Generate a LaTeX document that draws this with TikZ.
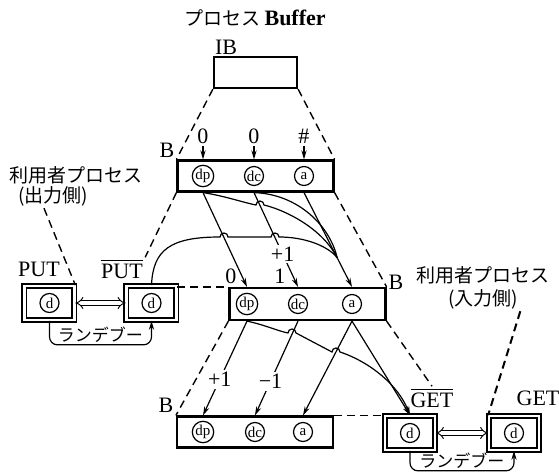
\documentclass[tikz,border=0pt]{standalone}
\usepackage{fontspec}
\setmainfont{Liberation Serif}
\newfontfamily\jfont{Noto Sans CJK JP}
\usetikzlibrary{arrows.meta, positioning, calc}
\tikzset{
  buf/.style={rectangle, draw, line width=1.1pt, minimum width=78pt, minimum height=15.5pt, inner sep=0pt},
  cell/.style={circle, draw, line width=0.6pt, minimum size=9.5pt, inner sep=0.2pt, font=\fontsize{7.5}{7.5}\selectfont},
  ubox/.style={rectangle, draw, line width=0.85pt, double, double distance=1.3pt, minimum width=25pt, minimum height=17pt},
  conn/.style={line width=0.6pt},
  arrow/.style={conn, -{Stealth[length=4.5pt,width=2.6pt]}},
  dasharrow/.style={dash pattern=on 4pt off 2.5pt, line width=0.7pt},
  rdv/.style={arrow, rounded corners=4pt},
  dbl/.style={{Implies}-{Implies}, double equal sign distance, line width=0.5pt},
  lbl/.style={font=\fontsize{11}{12}\selectfont, inner sep=1pt},
  jlabel/.style={font=\jfont\fontsize{9.5}{11}\selectfont, inner sep=1pt},
  rlabel/.style={font=\jfont\fontsize{8.5}{10}\selectfont, inner sep=1pt},
}
\begin{document}
\begin{tikzpicture}[x=0.5pt, y=-0.5pt]
  \useasboundingbox (0,0) rectangle (559,476);

  %% ---- PROCESS BUFFER ----
  \node[jlabel] (title) at (255,18) {プロセス {\rmfamily\fontsize{11}{12}\selectfont\bfseries Buffer}};
  \node[lbl] (iblab) at (226,47) {IB};
  \node[buf, minimum width=41.5pt] (IB) at (255.5,72.5) {};

  %% ---- TOP BUFFER ----
  \node[buf] (topB) at (255.5,176) {};
  \node[lbl] (tblab) at (167,150) {B};
  \node[cell] (tdp) at (203,176) {dp};
  \node[cell] (tdc) at (254,176) {dc};
  \node[cell] (ta) at (304,176) {a};
  \node[lbl] (v1) at (203,136) {0};
  \node[lbl] (v2) at (254,136) {0};
  \node[lbl] (v3) at (304,136) {\#};
  \draw[arrow] (v1) -- (v1 |- topB.north);
  \draw[arrow] (v2) -- (v2 |- topB.north);
  \draw[arrow] (v3) -- (v3 |- topB.north);
  \draw[dasharrow] (IB.south west) -- (topB.north west);
  \draw[dasharrow] (IB.south east) -- (topB.north east);

  %% ---- MIDDLE BUFFER ----
  \node[buf, minimum height=16pt] (midB) at (307.5,304) {};
  \node[lbl] (mblab) at (396,282) {B};
  \node[cell] (mdp) at (247,304) {dp};
  \node[cell] (mdc) at (298,304) {dc};
  \node[cell] (ma) at (352,304) {a};
  \node[lbl] (w1) at (231,276) {0};
  \node[lbl] (w2) at (280,276) {1};

  \draw[arrow] (tdp |- topB.south) -- (mdp |- midB.north);
  \draw[arrow] (tdc |- topB.south) -- node[lbl, fill=white, pos=0.65]{+1} (mdc |- midB.north);
  \draw[arrow] (ta |- topB.south) -- (ma |- midB.north);
  \coordinate (m) at ($(ta |- topB.south)!0.69!(ma |- midB.north)$);
  \draw[conn] (tdp |- topB.south) .. controls (225,196) and (245,203) .. (256,205)
    arc[start angle=180, end angle=360, radius=4] .. controls (285,210) and (322,228) .. (m);
  \draw[conn] (tdc |- topB.south) .. controls (298,194) and (330,226) .. (m);

  %% ---- USER PROCESS (OUTPUT SIDE) ----
  \node[jlabel] (out1) at (76,175) {利用者プロセス};
  \node[jlabel] (out2) at (53,196) {(出力側)};
  \node[ubox] (putb) at (49.5,303) {};
  \node[cell] (pd) at (putb) {d};
  \node[ubox] (putbb) at (151.5,303) {};
  \node[cell] (pbd) at (putbb) {d};
  \node[lbl] (putl) at (39,269) {PUT};
  \node[lbl] (putbl) at (122,269) {$\overline{\mbox{PUT}}$};
  \draw[dbl] (putb.east) -- (putbb.west);
  \draw[rdv] (putb.south) -- ++(0,24) -| node[rlabel, pos=0.25, above]{ランデブー} (putbb.south);
  \draw[dasharrow] ($(out2.south)+(-9,0)$) -- (putb.north east);
  \draw[dasharrow] (topB.south west) -- (putbl.north east);
  \draw[dasharrow] (midB.north west -| putbb.east) -- (midB.north west);
  \draw[dasharrow] (topB.south east) -- (midB.north east);
  \draw[conn] (putbb.north) .. controls (153,250) and (170,237) .. (220,237)
    arc[start angle=180, end angle=360, radius=4] -- (271,237)
    arc[start angle=180, end angle=360, radius=4] .. controls (305,237) and (328,246) .. (m);

  %% ---- BOTTOM BUFFER ----
  \node[buf] (botB) at (255,432) {};
  \node[lbl] (bblab) at (166,405) {B};
  \node[cell] (bdp) at (203,432) {dp};
  \node[cell] (bdc) at (255,432) {dc};
  \node[cell] (ba) at (303,432) {a};

  %% ---- USER PROCESS (INPUT SIDE) ----
  \node[jlabel] (in1) at (483,275) {利用者プロセス};
  \node[jlabel] (in2) at (483,299) {(入力側)};
  \node[ubox] (getb) at (410,433) {};
  \node[cell] (gbd) at (getb) {d};
  \node[ubox] (getu) at (514,433) {};
  \node[cell] (gd) at (getu) {d};
  \node[lbl] (getbl) at (432,398) {$\overline{\mbox{GET}}$};
  \node[lbl] (getl) at (538,398) {GET};
  \draw[dbl] (getb.east) -- (getu.west);
  \draw[rdv] (getb.south) -- ++(0,20) -| node[rlabel, pos=0.25, above]{ランデブー} (getu.south);
  \draw[dasharrow, line width=1pt] (in2.south east) -- (getu.north west);

  \draw[arrow] (mdp |- midB.south) -- node[lbl, fill=white, pos=0.62]{+1} (bdp |- botB.north);
  \draw[arrow] (mdc |- midB.south) -- node[lbl, fill=white, pos=0.64]{−1} (bdc |- botB.north);
  \draw[arrow] (ma |- midB.south) -- (ba |- botB.north);
  \draw[arrow] (ma |- midB.south) -- (getb.north);
  \draw[arrow] (mdp |- midB.south) .. controls (265,325) and (278,331) .. (288,333)
    arc[start angle=180, end angle=360, radius=4] -- (332,352)
    arc[start angle=180, end angle=360, radius=4] .. controls (370,362) and (398,385) .. (getb.north);
  \draw[dasharrow] (midB.south west) -- (botB.north west);
  \draw[dasharrow] (midB.south east) -- (getbl.north);
  \draw[dasharrow] (botB.north east) -- (botB.north east -| getb.west);

\end{tikzpicture}
\end{document}
